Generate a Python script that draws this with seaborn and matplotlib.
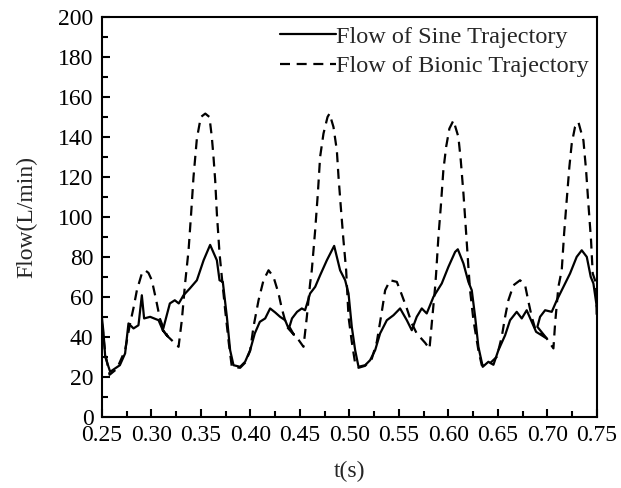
import numpy as np
import pandas as pd
import matplotlib
matplotlib.use("Agg")
import matplotlib.pyplot as plt
from matplotlib.ticker import MultipleLocator
from matplotlib.lines import Line2D
import seaborn as sns

# ---- data (t in s, flow in L/min) ----
sine_t = [0.2500, 0.2517, 0.2534, 0.2584, 0.2682, 0.2735, 0.2769, 0.2820, 0.2870, 0.2904,
          0.2927, 0.2988, 0.3073, 0.3116, 0.3164, 0.3116, 0.3187, 0.3237, 0.3277, 0.3325,
          0.3389, 0.3460, 0.3528, 0.3594, 0.3662, 0.3689, 0.3722, 0.3763, 0.3796, 0.3830,
          0.3897, 0.3947, 0.3998, 0.4045, 0.4096, 0.4150, 0.4200, 0.4251, 0.4301, 0.4352,
          0.4386, 0.4440, 0.4395, 0.4421, 0.4472, 0.4520, 0.4553, 0.4604, 0.4655, 0.4705,
          0.4773, 0.4847, 0.4907, 0.4958, 0.4992, 0.5025, 0.5059, 0.5093, 0.5160, 0.5210,
          0.5261, 0.5311, 0.5379, 0.5446, 0.5513, 0.5581, 0.5631, 0.5681, 0.5732, 0.5782,
          0.5850, 0.5934, 0.6001, 0.6069, 0.6096, 0.6153, 0.6203, 0.6237, 0.6271, 0.6304,
          0.6348, 0.6405, 0.6456, 0.6506, 0.6574, 0.6624, 0.6691, 0.6742, 0.6792, 0.6843,
          0.6887, 0.6994, 0.6900, 0.6927, 0.6978, 0.7045, 0.7096, 0.7163, 0.7230, 0.7297,
          0.7348, 0.7399, 0.7439, 0.7466, 0.7500]
sine_flow = [50.0, 42.0, 30.0, 22.5, 25.8, 31.7, 46.7, 44.2, 45.8, 60.8,
             49.2, 50.0, 48.3, 43.3, 40.3, 43.3, 56.7, 58.3, 56.7, 60.8,
             64.2, 68.3, 78.3, 86.0, 78.3, 68.3, 67.5, 50.0, 33.3, 25.8,
             25.0, 27.5, 33.3, 41.7, 47.5, 49.2, 54.2, 52.2, 50.0, 48.3,
             44.2, 41.0, 45.0, 49.2, 52.5, 54.2, 53.3, 61.7, 65.0, 70.8,
             78.3, 85.5, 73.3, 68.3, 61.7, 45.0, 33.3, 25.0, 25.8, 28.3,
             33.3, 41.7, 48.3, 50.8, 54.2, 48.3, 43.3, 50.0, 54.2, 51.7,
             60.0, 66.7, 75.0, 82.5, 83.8, 76.7, 67.5, 63.3, 50.0, 35.0,
             25.0, 27.5, 26.0, 33.3, 40.8, 48.3, 52.5, 49.2, 53.3, 47.5,
             42.5, 39.2, 45.0, 50.0, 53.3, 52.5, 58.3, 65.0, 71.7, 80.0,
             83.3, 80.0, 70.0, 66.7, 55.0]

bionic_t = [0.2500, 0.2534, 0.2578, 0.2652, 0.2735, 0.2783, 0.2820, 0.2854, 0.2904, 0.2937,
            0.2971, 0.3005, 0.3049, 0.3086, 0.3124, 0.3164, 0.3275, 0.3308, 0.3341, 0.3376,
            0.3402, 0.3426, 0.3460, 0.3500, 0.3545, 0.3587, 0.3611, 0.3628, 0.3645, 0.3662,
            0.3689, 0.3712, 0.3746, 0.3783, 0.3813, 0.3897, 0.3947, 0.3998, 0.4032, 0.4083,
            0.4133, 0.4184, 0.4234, 0.4285, 0.4318, 0.4369, 0.4470, 0.4537, 0.4571, 0.4604,
            0.4621, 0.4655, 0.4682, 0.4705, 0.4739, 0.4780, 0.4800, 0.4840, 0.4874, 0.4891,
            0.4914, 0.4941, 0.4968, 0.4992, 0.5025, 0.5059, 0.5093, 0.5160, 0.5227, 0.5278,
            0.5328, 0.5362, 0.5412, 0.5480, 0.5525, 0.5581, 0.5631, 0.5681, 0.5766, 0.5810,
            0.5833, 0.5867, 0.5877, 0.5900, 0.5924, 0.5950, 0.5978, 0.6011, 0.6052, 0.6102,
            0.6126, 0.6153, 0.6176, 0.6203, 0.6220, 0.6254, 0.6304, 0.6338, 0.6405, 0.6490,
            0.6540, 0.6574, 0.6607, 0.6658, 0.6725, 0.6776, 0.6810, 0.6843, 0.6877, 0.6994,
            0.7062, 0.7079, 0.7112, 0.7146, 0.7170, 0.7196, 0.7223, 0.7247, 0.7280, 0.7314,
            0.7365, 0.7392, 0.7415, 0.7442, 0.7459, 0.7493, 0.7500]
bionic_flow = [47.0, 32.0, 21.0, 24.0, 33.3, 46.1, 54.5, 63.3, 71.7, 73.3,
               72.0, 68.3, 58.3, 49.2, 44.2, 40.3, 35.0, 48.3, 66.7, 83.3,
               101.7, 120.0, 139.2, 150.0, 151.7, 150.0, 140.0, 130.0, 118.3, 101.7,
               81.7, 70.0, 53.3, 36.7, 25.0, 24.5, 27.0, 33.0, 45.0, 58.3,
               68.3, 73.3, 70.0, 61.7, 54.2, 45.0, 39.7, 35.0, 50.0, 66.7,
               73.3, 93.3, 111.7, 130.0, 141.7, 150.0, 151.7, 145.0, 133.3, 120.0,
               105.0, 88.3, 73.3, 50.0, 37.5, 26.7, 24.5, 25.5, 29.0, 37.5,
               52.5, 63.3, 68.3, 67.5, 61.7, 54.2, 46.7, 41.7, 37.0, 34.0,
               46.7, 65.0, 71.7, 90.0, 105.0, 123.3, 135.0, 144.2, 148.3, 140.0,
               128.3, 111.7, 95.0, 75.0, 63.3, 48.3, 33.3, 25.8, 26.0, 30.0,
               40.0, 50.0, 58.3, 65.8, 68.3, 65.8, 57.5, 50.0, 44.2, 39.2,
               34.2, 46.7, 65.0, 73.3, 91.7, 108.3, 125.0, 136.7, 145.0, 147.5,
               138.3, 123.3, 106.7, 88.3, 71.7, 66.7, 48.0]

labels = ["Flow of Sine Trajectory", "Flow of Bionic Trajectory"]
x_label = "t(s)"
y_label = "Flow(L/min)"

sine_df = pd.DataFrame({"t": sine_t, "flow": sine_flow})
bionic_df = pd.DataFrame({"t": bionic_t, "flow": bionic_flow})

sns.set_theme(style="ticks")
plt.rcParams["font.family"] = ["Liberation Serif", "DejaVu Serif"]

fig = plt.figure(figsize=(6.21, 4.88), dpi=100)
ax = fig.add_axes([0.164, 0.146, 0.797, 0.819])

sns.lineplot(data=sine_df, x="t", y="flow", sort=False, estimator=None,
             color="black", linewidth=1.6, ax=ax)
sns.lineplot(data=bionic_df, x="t", y="flow", sort=False, estimator=None,
             color="black", linewidth=1.6, ax=ax)
ax.lines[1].set_dashes([4.5, 3.0])

ax.set_xlim(0.25, 0.75)
ax.set_ylim(0, 200)
ax.xaxis.set_major_locator(MultipleLocator(0.05))
ax.xaxis.set_minor_locator(MultipleLocator(0.025))
ax.yaxis.set_major_locator(MultipleLocator(20))
ax.yaxis.set_minor_locator(MultipleLocator(10))
ax.set_xticks(ax.get_xticks())
ax.set_xticklabels([f"{v:.2f}" for v in ax.get_xticks()])
ax.set_xlim(0.25, 0.75)
ax.tick_params(axis="both", which="both", direction="in", top=False, right=False,
               colors="black", labelsize=17, width=1.5)
ax.tick_params(axis="both", which="major", length=6)
ax.tick_params(axis="both", which="minor", length=4)
ax.tick_params(axis="x", which="major", pad=6)
ax.tick_params(axis="y", which="major", pad=6)
for sp in ax.spines.values():
    sp.set_visible(True)
    sp.set_linewidth(1.5)
    sp.set_color("black")

ax.set_xlabel(x_label, fontsize=17, labelpad=11)
ax.set_ylabel(y_label, fontsize=17, labelpad=15)

h1 = Line2D([], [], color="black", linewidth=1.6)
h2 = Line2D([], [], color="black", linewidth=1.6, dashes=[4.5, 3.0])
ax.legend([h1, h2], labels, loc="upper left", bbox_to_anchor=(0.36, 0.978),
          frameon=False, fontsize=17.5, handlelength=2.3, handletextpad=0.0,
          borderpad=0, borderaxespad=0, labelspacing=0.3)

fig.savefig("out.png", dpi=100)
